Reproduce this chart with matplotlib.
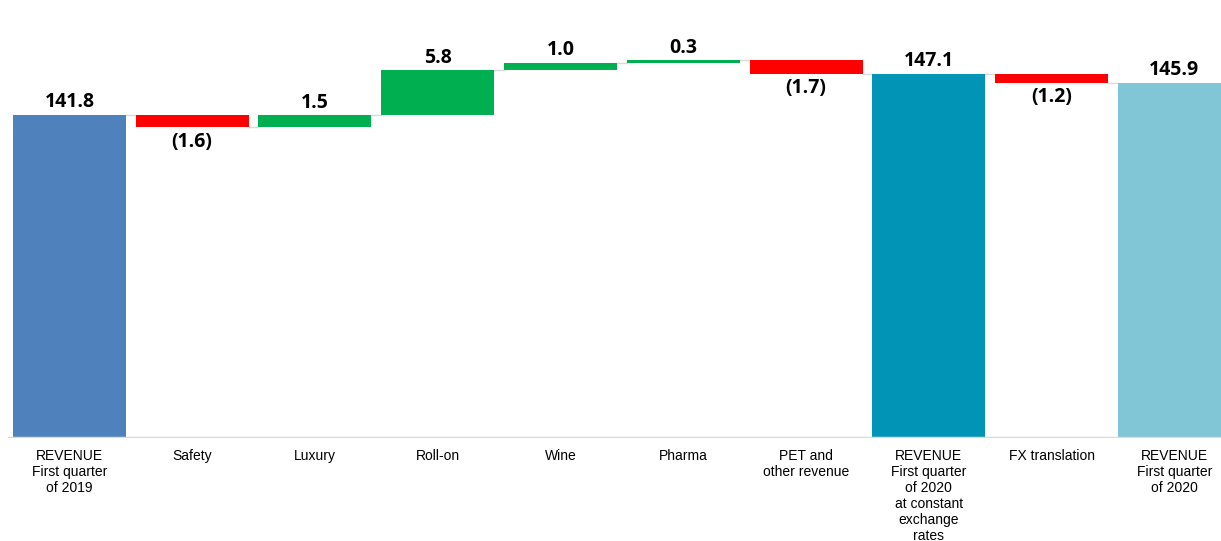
import matplotlib.pyplot as plt

# revenue bridge, Q1 2019 -> Q1 2020 (EUR m)
categories = ['REVENUE\nFirst quarter\nof 2019', 'Safety', 'Luxury', 'Roll-on', 'Wine',
              'Pharma', 'PET and\nother revenue',
              'REVENUE\nFirst quarter\nof 2020\nat constant\nexchange\nrates',
              'FX translation', 'REVENUE\nFirst quarter\nof 2020']
values = [141.8, -1.6, 1.5, 5.8, 1.0, 0.3, -1.7, 147.1, -1.2, 145.9]
is_total = [True, False, False, False, False, False, False, True, False, True]
total_colors = ['#4F81BD', '#0194B6', '#80C6D6']

base = 100.0

fig = plt.figure(figsize=(12.21, 5.41), dpi=100)
ax = fig.add_axes([8 / 1221, 103 / 541, 1 - 8 / 1221, 438 / 541])

running = 0.0
tops = []
k = 0
for i, v in enumerate(values):
    if is_total[i]:
        bottom, height = base, v - base
        color = total_colors[k]
        k += 1
        running = v
        label = f'{v:.1f}'
        top = v
    else:
        bottom = running if v > 0 else running + v
        height = abs(v)
        color = '#00B050' if v > 0 else '#FF0000'
        running += v
        label = f'{v:.1f}' if v > 0 else f'({abs(v):.1f})'
        top = bottom + height
    ax.bar(i, height, bottom=bottom, width=0.92, color=color, zorder=2)
    tops.append(running)
    if v > 0:
        ax.text(i, top + 0.35, label, ha='center', va='bottom', fontsize=14,
                fontweight='bold', family='Open Sans')
    else:
        ax.text(i, bottom - 0.6, label, ha='center', va='top', fontsize=14,
                fontweight='bold', family='Open Sans')

# connectors between consecutive bars
for i in range(len(values) - 1):
    ax.plot([i + 0.46, i + 0.54], [tops[i], tops[i]], color='#d9d9d9', lw=1, zorder=1)

ax.axhline(base, color='#d9d9d9', lw=2.5, zorder=3)
ax.set_ylim(base, 156.6)
ax.set_xlim(-0.50, 9.38)
ax.set_xticks(range(len(categories)))
ax.set_xticklabels(categories, fontsize=10, family='Liberation Sans', linespacing=1.18)
ax.tick_params(axis='x', length=0, pad=8)
ax.set_yticks([])
for s in ax.spines.values():
    s.set_visible(False)

fig.savefig('out.png', dpi=100)
